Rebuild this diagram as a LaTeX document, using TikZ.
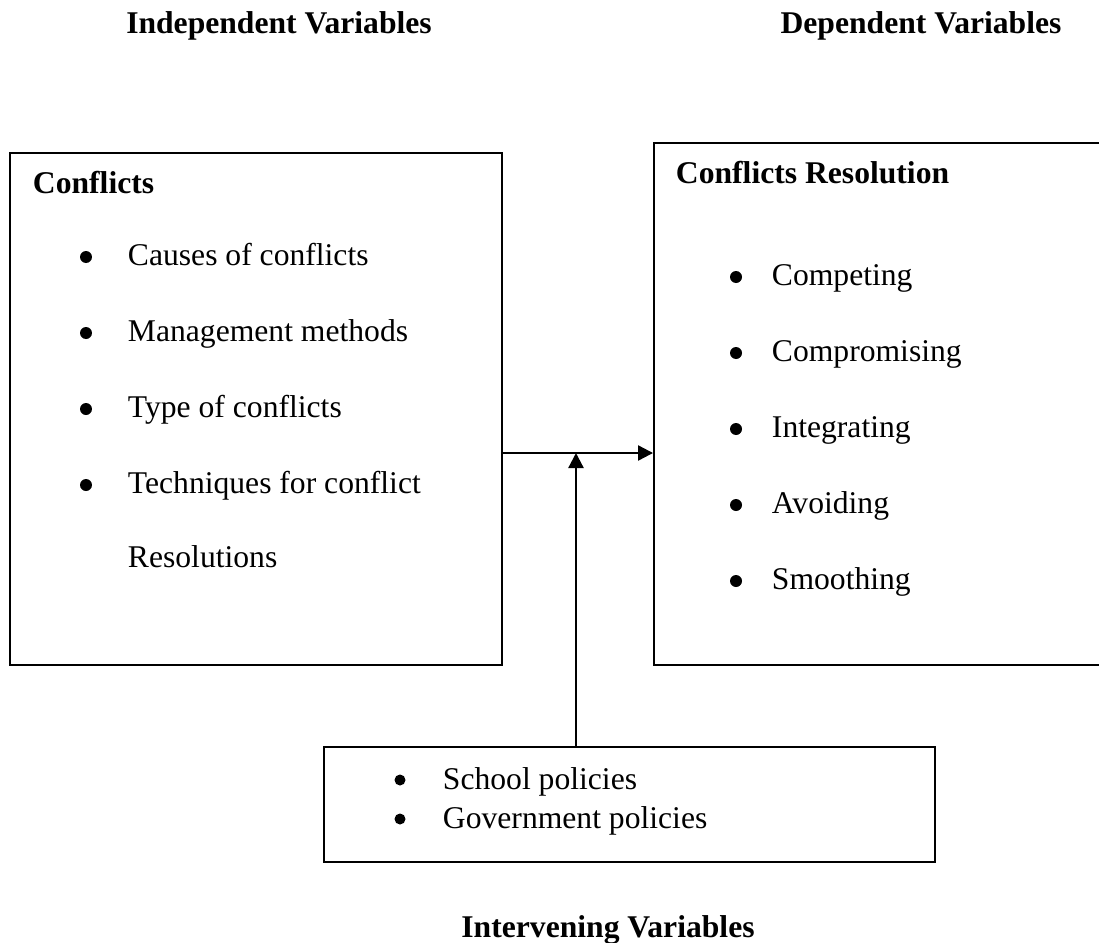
\documentclass[tikz,border=0pt]{standalone}
\usepackage{fontspec}
\setmainfont{Liberation Serif}
\usetikzlibrary{arrows.meta,fit}

\begin{document}
\begin{tikzpicture}[x=0.02cm,y=-0.02cm,line width=1.1pt,
  txt/.style={inner sep=0,anchor=base west,font=\fontsize{18}{22}\selectfont},
  head/.style={txt,font=\fontsize{18}{22}\selectfont\bfseries},
  box/.style={draw,inner sep=0},
  link/.style={line width=1.3pt,-{Triangle[length=0.3cm,width=0.3cm]}}]
\useasboundingbox (0,0) rectangle (1099,943);

% Variable titles
\node[head,anchor=base] (indep) at (279,33) {Independent Variables};
\node[head,anchor=base] (dep) at (921,33) {Dependent Variables};
\node[head,anchor=base] (interv) at (608,937) {Intervening Variables};

% Conflicts (independent)
\node[box,fit={(10,153) (502,665)}] (conf) {};
\node[head] (conftitle) at (32,193) {Conflicts};
\foreach \txt [count=\i from 0] in {Causes of conflicts,Management methods,Type of conflicts,Techniques for conflict}{
  \fill (86,257+76*\i) circle (1.2mm);
  \node[txt] (confitem\i) at (127,265+76*\i) {\txt};
}
\node[txt] (confitem4) at (127,567) {Resolutions};

% Conflicts resolution (dependent)
\node[box,fit={(654,143) (1120,665)}] (res) {};
\node[head] (restitle) at (675,183) {Conflicts Resolution};
\foreach \txt [count=\i from 0] in {Competing,Compromising,Integrating,Avoiding,Smoothing}{
  \fill (736,277+76*\i) circle (1.2mm);
  \node[txt] (resitem\i) at (771,285+76*\i) {\txt};
}

% Policies (intervening)
\node[box,fit={(324,747) (935,862)}] (pol) {};
\foreach \txt [count=\i from 0] in {School policies,Government policies}{
  \fill (400,780+39*\i) circle (1.1mm);
  \node[txt] (politem\i) at (442,789+39*\i) {\txt};
}

% Links
\coordinate (meet) at (576,453);
\draw[link] (conf.east |- meet) -- (res.west |- meet);
\draw[link] (meet |- pol.north) -- (meet);
\end{tikzpicture}
\end{document}
